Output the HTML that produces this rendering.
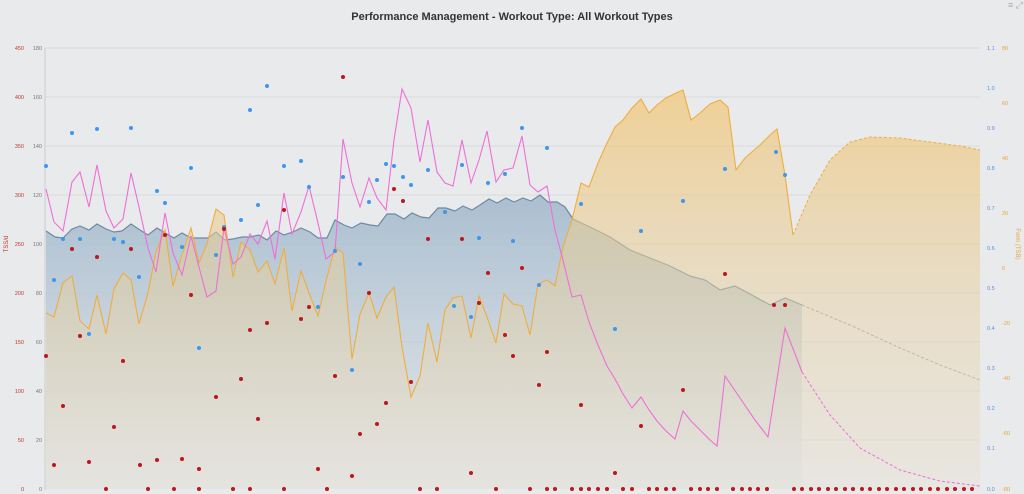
<!DOCTYPE html>
<html><head><meta charset="utf-8"><style>
html,body{margin:0;padding:0;background:#e9eaec;}
svg{display:block;font-family:"Liberation Sans",sans-serif;}
</style></head><body>
<svg width="1024" height="494" viewBox="0 0 1024 494" xmlns="http://www.w3.org/2000/svg">
<defs>
<linearGradient id="gb" x1="0" y1="0" x2="0" y2="1"><stop offset="0" stop-color="#9fb7cb" stop-opacity="0.85"/><stop offset="1" stop-color="#dde2e6" stop-opacity="0.6"/></linearGradient>
<linearGradient id="go" x1="0" y1="90" x2="0" y2="489" gradientUnits="userSpaceOnUse"><stop offset="0" stop-color="#f2c77a" stop-opacity="0.75"/><stop offset="0.5" stop-color="#e6cf9e" stop-opacity="0.5"/><stop offset="1" stop-color="#e8e2d6" stop-opacity="0.5"/></linearGradient>
</defs>
<rect width="1024" height="494" fill="#e9eaec"/>
<text x="512" y="20" text-anchor="middle" font-size="11" font-weight="bold" fill="#333">Performance Management - Workout Type: All Workout Types</text>
<text x="1008" y="8" font-size="9" fill="#aaa">≡ ⤢</text>
<g stroke="#d8d9dc" stroke-width="1">
<line x1="45" y1="48" x2="980" y2="48"/><line x1="45" y1="97" x2="980" y2="97"/><line x1="45" y1="146" x2="980" y2="146"/><line x1="45" y1="195" x2="980" y2="195"/><line x1="45" y1="244" x2="980" y2="244"/><line x1="45" y1="293" x2="980" y2="293"/><line x1="45" y1="342" x2="980" y2="342"/><line x1="45" y1="391" x2="980" y2="391"/><line x1="45" y1="440" x2="980" y2="440"/>
</g>
<line x1="45" y1="48" x2="45" y2="490" stroke="#ccc"/>
<g font-size="5.5" fill="#c0392b" text-anchor="end">
<text x="24" y="50">450</text><text x="24" y="99">400</text><text x="24" y="148">350</text><text x="24" y="197">300</text><text x="24" y="246">250</text><text x="24" y="295">200</text><text x="24" y="344">150</text><text x="24" y="393">100</text><text x="24" y="442">50</text><text x="24" y="491">0</text>
</g>
<text x="8" y="244" font-size="6" fill="#c0392b" transform="rotate(-90 8 244)" text-anchor="middle">TSS/d</text>
<g font-size="5.5" fill="#777" text-anchor="end">
<text x="42" y="50">180</text><text x="42" y="99">160</text><text x="42" y="148">140</text><text x="42" y="197">120</text><text x="42" y="246">100</text><text x="42" y="295">80</text><text x="42" y="344">60</text><text x="42" y="393">40</text><text x="42" y="442">20</text><text x="42" y="491">0</text>
</g>
<g font-size="5.5" fill="#5b8fd6">
<text x="987" y="50">1.1</text><text x="987" y="90">1.0</text><text x="987" y="130">0.9</text><text x="987" y="170">0.8</text><text x="987" y="210">0.7</text><text x="987" y="250">0.6</text><text x="987" y="290">0.5</text><text x="987" y="330">0.4</text><text x="987" y="370">0.3</text><text x="987" y="410">0.2</text><text x="987" y="450">0.1</text><text x="987" y="491">0.0</text>
</g>
<g font-size="5.5" fill="#e8a33c">
<text x="1002" y="50">80</text><text x="1002" y="105">60</text><text x="1002" y="160">40</text><text x="1002" y="215">20</text><text x="1002" y="270">0</text><text x="1002" y="325">-20</text><text x="1002" y="380">-40</text><text x="1002" y="435">-60</text><text x="1002" y="491">-80</text>
</g>
<text x="1016" y="244" font-size="6" fill="#e8a33c" transform="rotate(90 1016 244)" text-anchor="middle">Form (TSB)</text>

<!-- CTL area -->
<path fill="url(#gb)" d="M46,489 L46,231 55,237 63,238 72,229 80,226 89,230 97,224 106,229 114,232 122,231 131,224 140,230 148,235 157,228 165,233 174,238 182,233 191,238 208,238 216,232 225,240 233,239 242,237 250,237 259,235 267,240 276,231 284,235 293,232 301,228 310,232 318,238 327,238 335,220 344,225 352,228 361,223 370,225 378,226 387,214 395,214 404,219 412,213 421,217 429,218 438,208 446,208 455,211 463,206 472,210 480,205 489,199 497,203 506,198 514,202 523,198 531,201 540,195 548,202 557,202 565,207 573,219 590,227 610,237 630,250 650,258 670,266 690,276 705,280 720,290 735,286 750,294 770,305 785,298 802,305 L802,489 Z"/>
<polyline fill="none" stroke="#6d8aa3" stroke-width="1.2" points="46,231 55,237 63,238 72,229 80,226 89,230 97,224 106,229 114,232 122,231 131,224 140,230 148,235 157,228 165,233 174,238 182,233 191,238 208,238 216,232 225,240 233,239 242,237 250,237 259,235 267,240 276,231 284,235 293,232 301,228 310,232 318,238 327,238 335,220 344,225 352,228 361,223 370,225 378,226 387,214 395,214 404,219 412,213 421,217 429,218 438,208 446,208 455,211 463,206 472,210 480,205 489,199 497,203 506,198 514,202 523,198 531,201 540,195 548,202 557,202 565,207 573,219 590,227 610,237 630,250 650,258 670,266 690,276 705,280 720,290 735,286 750,294 770,305 785,298 802,305"/>
<polyline fill="none" stroke="#999" stroke-width="1" stroke-dasharray="3,2" points="802,305 850,325 900,348 940,365 980,380"/>

<!-- Form area -->
<path fill="url(#go)" d="M46,489 L46,313 54,317 63,283 72,276 80,321 89,329 97,295 106,334 114,289 123,273 131,280 139,324 148,293 156,252 165,230 173,286 182,255 191,228 199,263 207,244 216,209 224,215 233,277 241,242 250,250 258,272 267,261 275,284 284,248 292,311 301,271 309,293 318,316 326,281 335,247 343,253 352,359 360,314 369,293 377,318 386,297 394,287 402,347 411,397 420,376 428,323 437,362 445,310 453,298 462,296 471,338 479,296 487,317 496,343 504,294 513,304 522,306 530,335 538,284 547,280 555,286 563,247 572,220 581,183 589,187 598,163 607,143 615,127 623,120 632,108 641,99 649,113 657,105 666,98 674,94 683,90 691,120 700,113 710,104 720,100 728,107 736,170 745,158 760,145 770,135 777,129 785,175 793,235 810,195 830,160 850,142 870,137 900,138 930,142 960,146 980,150 L980,489 Z"/>
<polyline fill="none" stroke="#eeae3e" stroke-width="1.1" points="46,313 54,317 63,283 72,276 80,321 89,329 97,295 106,334 114,289 123,273 131,280 139,324 148,293 156,252 165,230 173,286 182,255 191,228 199,263 207,244 216,209 224,215 233,277 241,242 250,250 258,272 267,261 275,284 284,248 292,311 301,271 309,293 318,316 326,281 335,247 343,253 352,359 360,314 369,293 377,318 386,297 394,287 402,347 411,397 420,376 428,323 437,362 445,310 453,298 462,296 471,338 479,296 487,317 496,343 504,294 513,304 522,306 530,335 538,284 547,280 555,286 563,247 572,220 581,183 589,187 598,163 607,143 615,127 623,120 632,108 641,99 649,113 657,105 666,98 674,94 683,90 691,120 700,113 710,104 720,100 728,107 736,170 745,158 760,145 770,135 777,129 785,175 793,235"/>
<polyline fill="none" stroke="#eeae3e" stroke-width="1" stroke-dasharray="3,2" points="793,235 810,195 830,160 850,142 870,137 900,138 930,142 960,146 980,150"/>

<!-- ATL -->
<polyline fill="none" stroke="#ee6fd6" stroke-width="1.1" points="46,189 54,222 63,231 72,182 80,172 89,207 97,165 106,211 114,228 123,219 131,173 139,207 148,248 156,272 165,213 173,253 182,275 191,236 199,267 207,297 216,291 224,228 233,264 241,257 250,234 258,244 267,221 275,259 284,193 292,234 301,212 309,186 318,223 326,259 335,252 343,139 352,183 360,207 369,178 377,198 386,210 394,140 402,89 411,108 420,162 428,120 437,172 445,183 453,186 462,140 471,183 479,160 487,131 496,182 504,170 513,168 522,136 530,185 538,192 547,186 555,230 563,260 572,297 581,295 589,322 598,345 607,366 615,379 623,394 632,408 641,397 649,410 657,421 666,431 675,439 683,411 691,421 700,430 710,440 717,446 725,376 740,398 755,420 768,437 785,328 802,372"/>
<polyline fill="none" stroke="#ee6fd6" stroke-width="1" stroke-dasharray="3,2" points="802,372 830,415 860,448 900,470 940,481 980,486"/>

<!-- IF dots -->
<g fill="#3d97ee">
<circle cx="46" cy="166" r="2"/><circle cx="54" cy="280" r="2"/><circle cx="63" cy="239" r="2"/><circle cx="72" cy="133" r="2"/><circle cx="80" cy="239" r="2"/><circle cx="89" cy="334" r="2"/><circle cx="97" cy="129" r="2"/><circle cx="114" cy="239" r="2"/><circle cx="123" cy="242" r="2"/><circle cx="131" cy="128" r="2"/><circle cx="139" cy="277" r="2"/><circle cx="157" cy="191" r="2"/><circle cx="165" cy="203" r="2"/><circle cx="191" cy="168" r="2"/><circle cx="182" cy="247" r="2"/><circle cx="199" cy="348" r="2"/><circle cx="216" cy="255" r="2"/><circle cx="224" cy="227" r="2"/><circle cx="241" cy="220" r="2"/><circle cx="250" cy="110" r="2"/><circle cx="258" cy="205" r="2"/><circle cx="267" cy="86" r="2"/><circle cx="284" cy="166" r="2"/><circle cx="301" cy="161" r="2"/><circle cx="309" cy="187" r="2"/><circle cx="318" cy="307" r="2"/><circle cx="335" cy="251" r="2"/><circle cx="343" cy="177" r="2"/><circle cx="352" cy="370" r="2"/><circle cx="360" cy="264" r="2"/><circle cx="369" cy="202" r="2"/><circle cx="377" cy="180" r="2"/><circle cx="386" cy="164" r="2"/><circle cx="394" cy="166" r="2"/><circle cx="403" cy="177" r="2"/><circle cx="411" cy="185" r="2"/><circle cx="428" cy="170" r="2"/><circle cx="445" cy="212" r="2"/><circle cx="454" cy="306" r="2"/><circle cx="462" cy="165" r="2"/><circle cx="471" cy="317" r="2"/><circle cx="479" cy="238" r="2"/><circle cx="488" cy="183" r="2"/><circle cx="505" cy="174" r="2"/><circle cx="513" cy="241" r="2"/><circle cx="522" cy="128" r="2"/><circle cx="539" cy="285" r="2"/><circle cx="547" cy="148" r="2"/><circle cx="581" cy="204" r="2"/><circle cx="615" cy="329" r="2"/><circle cx="641" cy="231" r="2"/><circle cx="683" cy="201" r="2"/><circle cx="725" cy="169" r="2"/><circle cx="776" cy="152" r="2"/><circle cx="785" cy="175" r="2"/>
</g>
<!-- TSS dots -->
<g fill="#c0151a">
<circle cx="46" cy="356" r="2"/><circle cx="54" cy="465" r="2"/><circle cx="63" cy="406" r="2"/><circle cx="72" cy="249" r="2"/><circle cx="80" cy="336" r="2"/><circle cx="89" cy="462" r="2"/><circle cx="97" cy="257" r="2"/><circle cx="114" cy="427" r="2"/><circle cx="123" cy="361" r="2"/><circle cx="131" cy="249" r="2"/><circle cx="140" cy="465" r="2"/><circle cx="157" cy="460" r="2"/><circle cx="165" cy="235" r="2"/><circle cx="182" cy="459" r="2"/><circle cx="191" cy="295" r="2"/><circle cx="199" cy="469" r="2"/><circle cx="216" cy="397" r="2"/><circle cx="224" cy="229" r="2"/><circle cx="241" cy="379" r="2"/><circle cx="250" cy="330" r="2"/><circle cx="258" cy="419" r="2"/><circle cx="267" cy="323" r="2"/><circle cx="284" cy="210" r="2"/><circle cx="301" cy="319" r="2"/><circle cx="309" cy="307" r="2"/><circle cx="318" cy="469" r="2"/><circle cx="335" cy="376" r="2"/><circle cx="343" cy="77" r="2"/><circle cx="352" cy="476" r="2"/><circle cx="360" cy="434" r="2"/><circle cx="369" cy="293" r="2"/><circle cx="377" cy="424" r="2"/><circle cx="386" cy="403" r="2"/><circle cx="394" cy="189" r="2"/><circle cx="403" cy="201" r="2"/><circle cx="411" cy="382" r="2"/><circle cx="428" cy="239" r="2"/><circle cx="462" cy="239" r="2"/><circle cx="471" cy="473" r="2"/><circle cx="479" cy="303" r="2"/><circle cx="488" cy="273" r="2"/><circle cx="505" cy="335" r="2"/><circle cx="513" cy="356" r="2"/><circle cx="522" cy="268" r="2"/><circle cx="539" cy="385" r="2"/><circle cx="547" cy="352" r="2"/><circle cx="581" cy="405" r="2"/><circle cx="615" cy="473" r="2"/><circle cx="641" cy="426" r="2"/><circle cx="683" cy="390" r="2"/><circle cx="725" cy="274" r="2"/><circle cx="774" cy="305" r="2"/><circle cx="785" cy="305" r="2"/>
<circle cx="106" cy="489" r="2"/><circle cx="148" cy="489" r="2"/><circle cx="174" cy="489" r="2"/><circle cx="199" cy="489" r="2"/><circle cx="233" cy="489" r="2"/><circle cx="250" cy="489" r="2"/><circle cx="284" cy="489" r="2"/><circle cx="327" cy="489" r="2"/><circle cx="420" cy="489" r="2"/><circle cx="437" cy="489" r="2"/><circle cx="496" cy="489" r="2"/><circle cx="530" cy="489" r="2"/><circle cx="547" cy="489" r="2"/><circle cx="555" cy="489" r="2"/><circle cx="572" cy="489" r="2"/><circle cx="581" cy="489" r="2"/><circle cx="589" cy="489" r="2"/><circle cx="598" cy="489" r="2"/><circle cx="607" cy="489" r="2"/><circle cx="623" cy="489" r="2"/><circle cx="632" cy="489" r="2"/><circle cx="649" cy="489" r="2"/><circle cx="657" cy="489" r="2"/><circle cx="666" cy="489" r="2"/><circle cx="674" cy="489" r="2"/><circle cx="691" cy="489" r="2"/><circle cx="700" cy="489" r="2"/><circle cx="708" cy="489" r="2"/><circle cx="717" cy="489" r="2"/><circle cx="733" cy="489" r="2"/><circle cx="742" cy="489" r="2"/><circle cx="750" cy="489" r="2"/><circle cx="758" cy="489" r="2"/><circle cx="767" cy="489" r="2"/><circle cx="794" cy="489" r="2"/><circle cx="802" cy="489" r="2"/><circle cx="811" cy="489" r="2"/><circle cx="819" cy="489" r="2"/><circle cx="828" cy="489" r="2"/><circle cx="836" cy="489" r="2"/><circle cx="845" cy="489" r="2"/><circle cx="853" cy="489" r="2"/><circle cx="862" cy="489" r="2"/><circle cx="870" cy="489" r="2"/><circle cx="879" cy="489" r="2"/><circle cx="887" cy="489" r="2"/><circle cx="896" cy="489" r="2"/><circle cx="904" cy="489" r="2"/><circle cx="913" cy="489" r="2"/><circle cx="921" cy="489" r="2"/><circle cx="930" cy="489" r="2"/><circle cx="938" cy="489" r="2"/><circle cx="947" cy="489" r="2"/><circle cx="955" cy="489" r="2"/><circle cx="964" cy="489" r="2"/><circle cx="972" cy="489" r="2"/>
</g>
</svg>
</body></html>
